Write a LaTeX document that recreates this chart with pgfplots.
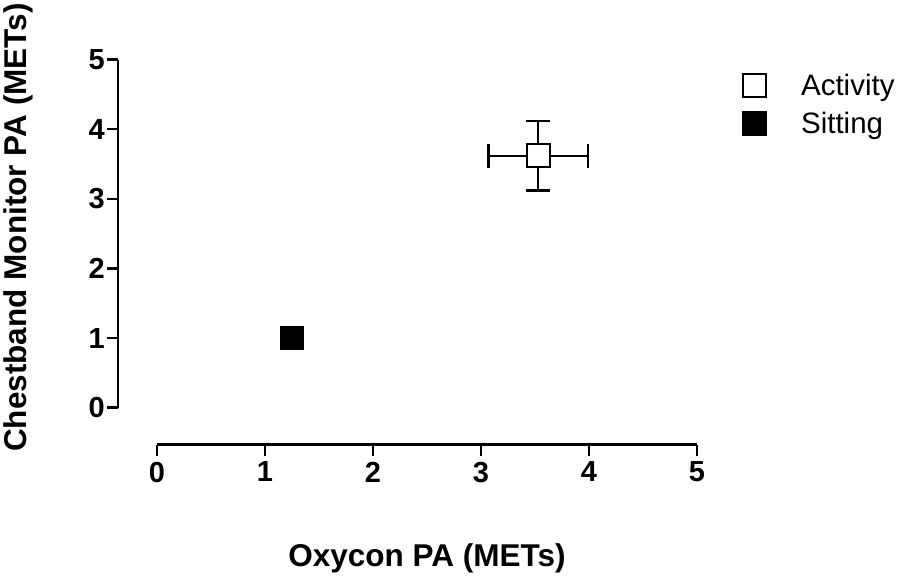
\documentclass[border=0pt]{standalone}
\usepackage{fontspec}
\setmainfont{Liberation Sans}
\usepackage{pgfplots}
\pgfplotsset{compat=1.18}
\begin{document}
\begin{tikzpicture}
\begin{axis}[
  scale only axis, width=540pt, height=348pt,
  xmin=0, xmax=5, ymin=0, ymax=5,
  axis x line=bottom, axis y line=left,
  axis x line shift=37pt, axis y line shift=39pt,
  axis line style={-, line width=2.4pt, black},
  xtick={0,1,2,3,4,5}, ytick={0,1,2,3,4,5},
  tick align=outside, major tick length=11pt,
  tick style={line width=2.4pt, black},
  /pgf/number format/assume math mode=true,
  ticklabel style={font=\fontsize{29}{31}\selectfont\bfseries, inner sep=2pt},
  xticklabel style={yshift=-4pt},
  xlabel={Oxycon PA (METs)},
  ylabel={Chestband Monitor PA (METs)},
  label style={font=\fontsize{31.5}{35}\selectfont\bfseries},
  xlabel style={yshift=-56pt},
  ylabel style={yshift=50pt, xshift=6pt},
  clip=false,
  legend style={at={(1.085,0.965)}, anchor=north west, draw=none, fill=none,
    font=\fontsize{29.5}{34}\selectfont, row sep=11pt, inner sep=0pt,
    /tikz/every even column/.append style={column sep=0pt}},
  legend cell align=left,
]
\path[use as bounding box] (rel axis cs:-0.2907,-0.4943) rectangle (rel axis cs:1.3759,1.1667);
% legend entries
\addlegendimage{only marks, mark=square, mark size=11.5pt, line width=2pt, black}
\addlegendentry{\hspace{33pt}Activity}
\addlegendimage{only marks, mark=square*, mark size=11.5pt, line width=2pt, black}
\addlegendentry{\hspace{33pt}Sitting}
% Activity: vertical error bars + white square
\addplot[forget plot, only marks, mark=square*, mark size=11.5pt,
  mark options={fill=white, draw=black, line width=2pt},
  error bars/.cd, y dir=both, y explicit,
  error mark options={rotate=90, mark size=12pt, line width=2.2pt},
  error bar style={line width=2.2pt, black}]
  coordinates {(3.53,3.62) +- (0,0.50)};
% Activity: horizontal error bar over square
\addplot[forget plot, only marks, mark=square, mark size=11.5pt,
  mark options={draw=black, line width=2pt},
  error bars/.cd, x dir=both, x explicit,
  error mark options={rotate=90, mark size=12pt, line width=2.2pt},
  error bar style={line width=2.2pt, black}]
  coordinates {(3.53,3.62) +- (0.46,0)};
% Sitting
\addplot[forget plot, only marks, mark=square*, mark size=11.5pt,
  mark options={fill=black, draw=black, line width=1pt}]
  coordinates {(1.25,1.00)};
\end{axis}
\end{tikzpicture}
\end{document}
